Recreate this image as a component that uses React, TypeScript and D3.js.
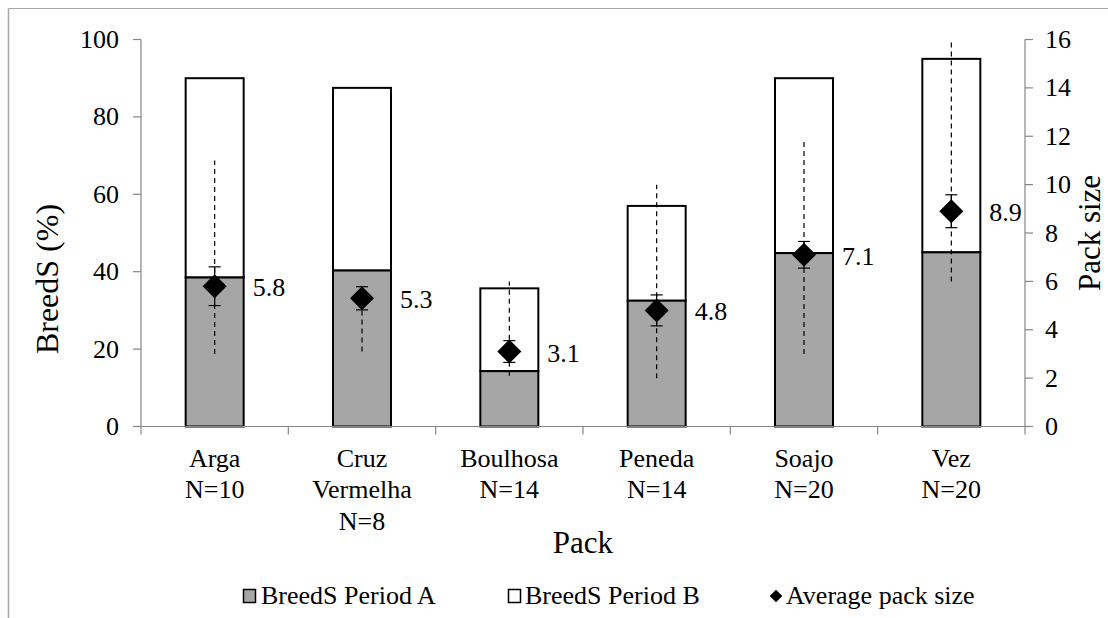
import React from "react";
import * as d3 from "d3";

const categories = ["Arga", "Cruz Vermelha", "Boulhosa", "Peneda", "Soajo", "Vez"];
const labelLines = [["Arga", "N=10"], ["Cruz", "Vermelha", "N=8"], ["Boulhosa", "N=14"], ["Peneda", "N=14"], ["Soajo", "N=20"], ["Vez", "N=20"]];
const periodA = [38.5, 40.3, 14.3, 32.5, 44.8, 45];
const periodB = [51.5, 47.2, 21.4, 24.5, 45.2, 50];
const packSize = [5.8, 5.3, 3.1, 4.8, 7.1, 8.9];
const packErr = [0.8, 0.48, 0.45, 0.64, 0.55, 0.68];
const packMin = [3, 3.1, 2.1, 2, 3, 6];
const packMax = [11, 5.8, 6, 10, 11.9, 16];
const leftTicks = [0, 20, 40, 60, 80, 100];
const rightTicks = [0, 2, 4, 6, 8, 10, 12, 14, 16];

const FONT = "Liberation Serif";
const AXIS = "#868686";

export default function App() {
  const x = d3.scaleBand<string>().domain(categories).range([141, 1025]).padding(0);
  const yL = d3.scaleLinear().domain([0, 100]).range([426.5, 39.5]);
  const yR = d3.scaleLinear().domain([0, 16]).range([426.5, 39.5]);
  const barW = 58;
  const cx = (c: string) => (x(c) as number) + x.bandwidth() / 2;
  const diamond = d3.symbol().type(d3.symbolSquare).size(17 * 17)();
  const ts: React.CSSProperties = { fontFamily: FONT };

  return (
    <svg width={1108} height={618} style={{ position: "absolute", left: 0, top: 0, background: "#fff" }}>
      {/* outer border */}
      <line x1={8.5} y1={8.5} x2={1108} y2={8.5} stroke="#a6a6a6" strokeWidth={1} />
      <line x1={8.5} y1={8.5} x2={8.5} y2={618} stroke="#a6a6a6" strokeWidth={1.5} />

      {/* bars */}
      {categories.map((c, i) => {
        const x0 = cx(c) - barW / 2;
        return (
          <g key={c}>
            <rect x={x0} y={yL(periodA[i] + periodB[i])} width={barW} height={yL(periodA[i]) - yL(periodA[i] + periodB[i])} fill="#fff" stroke="#000" strokeWidth={2} />
            <rect x={x0} y={yL(periodA[i])} width={barW} height={yL(0) - yL(periodA[i])} fill="#a6a6a6" stroke="#000" strokeWidth={2} />
          </g>
        );
      })}

      {/* axes */}
      <line x1={141} y1={yL(0)} x2={1025} y2={yL(0)} stroke={AXIS} strokeWidth={1.2} />
      <line x1={141} y1={yL(0)} x2={141} y2={yL(100)} stroke={AXIS} strokeWidth={1.2} />
      <line x1={1025} y1={yR(0)} x2={1025} y2={yR(16)} stroke={AXIS} strokeWidth={1.2} />
      {d3.range(categories.length + 1).map((i) => {
        const xx = 141 + i * x.bandwidth();
        return <line key={i} x1={xx} y1={yL(0)} x2={xx} y2={yL(0) + 8} stroke={AXIS} strokeWidth={1.2} />;
      })}
      {leftTicks.map((t) => (
        <g key={"l" + t}>
          <line x1={133} y1={yL(t)} x2={141} y2={yL(t)} stroke={AXIS} strokeWidth={1.2} />
          <text x={119} y={yL(t)} dy="0.33em" textAnchor="end" fontSize={26} style={ts}>{t}</text>
        </g>
      ))}
      {rightTicks.map((t) => (
        <g key={"r" + t}>
          <line x1={1025} y1={yR(t)} x2={1033} y2={yR(t)} stroke={AXIS} strokeWidth={1.2} />
          <text x={1045} y={yR(t)} dy="0.33em" textAnchor="start" fontSize={26} style={ts}>{t}</text>
        </g>
      ))}

      {/* category labels */}
      {categories.map((c, i) => (
        <text key={"cl" + c} x={cx(c)} textAnchor="middle" fontSize={26} style={ts}>
          {labelLines[i].map((ln, j) => (
            <tspan key={j} x={cx(c)} y={466.5 + j * 31.5}>{ln}</tspan>
          ))}
        </text>
      ))}

      {/* axis titles */}
      <text x={583} y={553} textAnchor="middle" fontSize={31} style={ts}>Pack</text>
      <text transform={`translate(58,279) rotate(-90)`} textAnchor="middle" fontSize={32} style={ts}>BreedS (%)</text>
      <text transform={`translate(1100,233) rotate(-90)`} textAnchor="middle" fontSize={31} style={ts}>Pack size</text>

      {/* pack size points */}
      {categories.map((c, i) => {
        const px = cx(c);
        return (
          <g key={"p" + c}>
            <line x1={px} y1={yR(packMin[i])} x2={px} y2={yR(packMax[i])} stroke="#000" strokeWidth={1.2} strokeDasharray="5,4" />
            <line x1={px} y1={yR(packSize[i] - packErr[i])} x2={px} y2={yR(packSize[i] + packErr[i])} stroke="#000" strokeWidth={1.2} />
            <line x1={px - 6} y1={yR(packSize[i] + packErr[i])} x2={px + 6} y2={yR(packSize[i] + packErr[i])} stroke="#000" strokeWidth={1.2} />
            <line x1={px - 6} y1={yR(packSize[i] - packErr[i])} x2={px + 6} y2={yR(packSize[i] - packErr[i])} stroke="#000" strokeWidth={1.2} />
            <path d={diamond as string} transform={`translate(${px},${yR(packSize[i])}) rotate(45)`} fill="#000" />
            <text x={px + 38} y={yR(packSize[i]) + 10} fontSize={26} style={ts}>{packSize[i].toFixed(1)}</text>
          </g>
        );
      })}

      {/* legend */}
      <rect x={243.5} y={589.5} width={12} height={13} fill="#a6a6a6" stroke="#000" strokeWidth={1.5} />
      <text x={261} y={604} fontSize={26} style={ts}>BreedS Period A</text>
      <rect x={508.5} y={589.5} width={12} height={13} fill="#fff" stroke="#000" strokeWidth={1.5} />
      <text x={525} y={604} fontSize={26} style={ts}>BreedS Period B</text>
      <path d={d3.symbol().type(d3.symbolSquare).size(81)() as string} transform="translate(776,596) rotate(45)" fill="#000" />
      <text x={786} y={604} fontSize={26} style={ts}>Average pack size</text>
    </svg>
  );
}
